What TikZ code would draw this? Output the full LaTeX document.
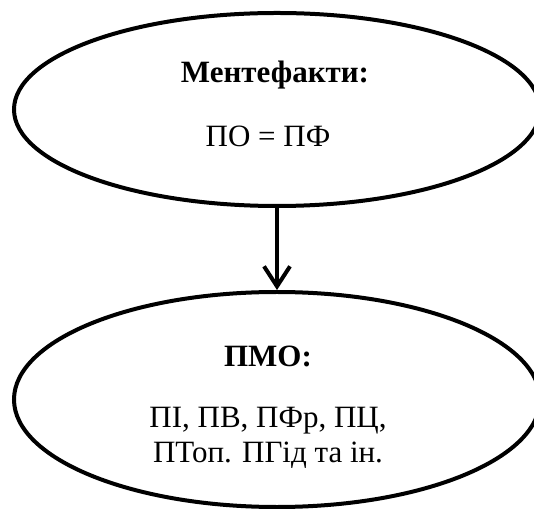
\documentclass[tikz,border=0pt]{standalone}
\usepackage{fontspec}
\setmainfont{Liberation Serif}
\usetikzlibrary{shapes.geometric,arrows.meta}
\tikzset{
  oval/.style={draw=black, line width=4pt, ellipse, inner sep=0pt},
  txt/.style={anchor=base, inner sep=0pt, font=\fontsize{31}{35}\selectfont},
  ttl/.style={txt, font=\fontsize{31}{35}\selectfont\bfseries},
  link/.style={line width=4pt, -{Straight Barb[length=20pt,width=26pt,line width=4pt]}}
}
\begin{document}
\begin{tikzpicture}[x=1pt,y=1pt]
\useasboundingbox (0,0) rectangle (534,508);
\fill[white] (0,0) rectangle (534,508);
\begin{scope}
\clip (0,0) rectangle (534,508);
\node[oval, minimum width=526pt, minimum height=193pt] (top) at (277,398.5) {};
\node[oval, minimum width=526pt, minimum height=215pt] (bot) at (277,108.5) {};
\end{scope}
\node[ttl] (t1) at (275,425) {Ментефакти:};
\node[txt] (t2) at (268,361) {ПО = ПФ};
\node[ttl] (b1) at (268,141) {ПМО:};
\node[txt] (b2) at (268,81) {ПІ, ПВ, ПФр, ПЦ,};
\node[txt] (b3) at (268,46) {ПТоп. ПГід та ін.};
\draw[link] (top.south) -- (bot.north);
\end{tikzpicture}
\end{document}
